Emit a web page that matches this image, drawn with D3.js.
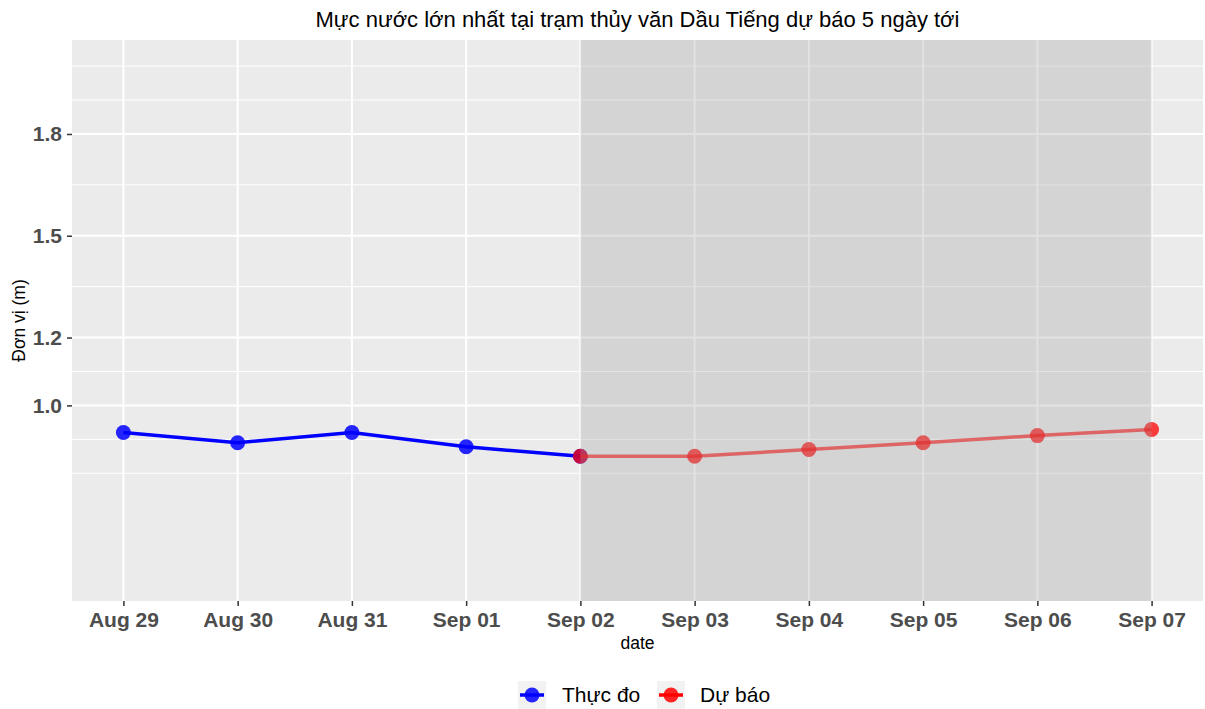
<!DOCTYPE html>
<html><head><meta charset="utf-8">
<script src="https://cdn.jsdelivr.net/npm/d3@7"></script>
<style>body{margin:0;background:#fff;} svg{display:block;font-family:"Liberation Sans",Arial,sans-serif;}</style>
</head><body><div id="chart"></div>
<script>
const obsDates = ["2024-08-29","2024-08-30","2024-08-31","2024-09-01","2024-09-02"];
const obsValues = [0.92, 0.89, 0.92, 0.878, 0.85];
const fcDates = ["2024-09-02","2024-09-03","2024-09-04","2024-09-05","2024-09-06","2024-09-07"];
const fcValues = [0.85, 0.85, 0.87, 0.89, 0.911, 0.929];
const yBreaks = [1.0, 1.2, 1.5, 1.8];
const yMinor = [0.8, 0.9, 1.1, 1.35, 1.65, 1.9, 2.0];
const title = "Mực nước lớn nhất tại trạm thủy văn Dầu Tiếng dự báo 5 ngày tới";
const xTitle = "date", yTitle = "Đơn vị (m)";
const legendLabels = ["Thực đo", "Dự báo"];
const colors = ["#0000ff", "#ff0000"];

const W = 1205, H = 709;
const P = {l: 72, r: 1203, t: 40, b: 601};
const parse = d3.utcParse("%Y-%m-%d");
const allDates = obsDates.concat(fcDates).map(parse);
const xMin = d3.min(allDates), xMax = d3.max(allDates);
const span = xMax - xMin;
const x = d3.scaleUtc().domain([new Date(+xMin - 0.05*span), new Date(+xMax + 0.05*span)]).range([P.l, P.r]);
const y = d3.scaleLinear().domain([0.4235, 2.077]).range([P.b, P.t]);

const svg = d3.select("#chart").append("svg").attr("width", W).attr("height", H);
svg.append("rect").attr("x", P.l).attr("y", P.t).attr("width", P.r-P.l).attr("height", P.b-P.t).attr("fill", "#ebebeb");

const tickDates = d3.utcDay.range(xMin, new Date(+xMax + 1));
svg.append("g").selectAll("line").data(yMinor).join("line")
  .attr("x1", P.l).attr("x2", P.r).attr("y1", d=>y(d)).attr("y2", d=>y(d))
  .attr("stroke", "#fff").attr("stroke-width", 1);
svg.append("g").selectAll("line").data(yBreaks).join("line")
  .attr("x1", P.l).attr("x2", P.r).attr("y1", d=>y(d)).attr("y2", d=>y(d))
  .attr("stroke", "#fff").attr("stroke-width", 2);
svg.append("g").selectAll("line").data(tickDates).join("line")
  .attr("y1", P.t).attr("y2", P.b).attr("x1", d=>x(d)).attr("x2", d=>x(d))
  .attr("stroke", "#fff").attr("stroke-width", 2);

const obs = obsDates.map((d,i)=>({d:parse(d), v:obsValues[i]}));
const fc = fcDates.map((d,i)=>({d:parse(d), v:fcValues[i]}));
const line = d3.line().x(p=>x(p.d)).y(p=>y(p.v));
svg.append("path").datum(obs).attr("d", line).attr("fill","none").attr("stroke", colors[0]).attr("stroke-width", 3.5);
svg.append("g").selectAll("circle").data(obs).join("circle")
  .attr("cx", p=>x(p.d)).attr("cy", p=>y(p.v)).attr("r", 7.5).attr("fill", colors[0]).attr("fill-opacity", 0.85);
svg.append("path").datum(fc).attr("d", line).attr("fill","none").attr("stroke", colors[1]).attr("stroke-opacity",0.68).attr("stroke-width", 3.5);
svg.append("g").selectAll("circle").data(fc).join("circle")
  .attr("cx", p=>x(p.d)).attr("cy", p=>y(p.v)).attr("r", 7.5).attr("fill", colors[1]).attr("fill-opacity", 0.75);

svg.append("rect").attr("x", x(parse(fcDates[0]))).attr("y", P.t)
  .attr("width", x(parse(fcDates[fcDates.length-1])) - x(parse(fcDates[0]))).attr("height", P.b-P.t)
  .attr("fill", "#a0a0a0").attr("fill-opacity", 0.3);

const xAxis = svg.append("g").attr("transform", `translate(0,${P.b})`)
  .call(d3.axisBottom(x).tickValues(tickDates).tickFormat(d3.utcFormat("%b %d")).tickSize(5).tickPadding(6));
xAxis.select(".domain").remove();
xAxis.selectAll("line").attr("stroke", "#333").attr("stroke-width", 1.5);
xAxis.selectAll("text").attr("fill", "#4d4d4d").attr("font-size", 21).attr("font-weight", "bold").attr("font-family", "Liberation Sans, Arial, sans-serif");

const yAxis = svg.append("g").attr("transform", `translate(${P.l},0)`)
  .call(d3.axisLeft(y).tickValues(yBreaks).tickFormat(d3.format(".1f")).tickSize(5).tickPadding(5));
yAxis.select(".domain").remove();
yAxis.selectAll("line").attr("stroke", "#333").attr("stroke-width", 1.5);
yAxis.selectAll("text").attr("fill", "#4d4d4d").attr("font-size", 21).attr("font-weight", "bold").attr("font-family", "Liberation Sans, Arial, sans-serif");

svg.append("text").attr("x", (P.l+P.r)/2).attr("y", 27).attr("text-anchor","middle")
  .attr("font-size", 22).attr("fill","#000").text(title);
svg.append("text").attr("x", (P.l+P.r)/2).attr("y", 649).attr("text-anchor","middle")
  .attr("font-size", 17.5).attr("fill","#000").text(xTitle);
svg.append("text").attr("transform", `translate(25,${(P.t+P.b)/2}) rotate(-90)`).attr("text-anchor","middle")
  .attr("font-size", 17.5).attr("fill","#000").text(yTitle);

const keyX = [518, 657], textX = [562, 700];
const lg = svg.append("g");
legendLabels.forEach((lab, i) => {
  lg.append("rect").attr("x", keyX[i]).attr("y", 681).attr("width", 28).attr("height", 28).attr("fill", "#f2f2f2");
  lg.append("line").attr("x1", keyX[i]+2).attr("x2", keyX[i]+26).attr("y1", 695).attr("y2", 695)
    .attr("stroke", colors[i]).attr("stroke-width", 3.5);
  lg.append("circle").attr("cx", keyX[i]+14).attr("cy", 695).attr("r", 7.5).attr("fill", colors[i]).attr("fill-opacity", 0.85);
  lg.append("text").attr("x", textX[i]).attr("y", 702).attr("font-size", 21).attr("fill", "#000").text(lab);
});
</script></body></html>
